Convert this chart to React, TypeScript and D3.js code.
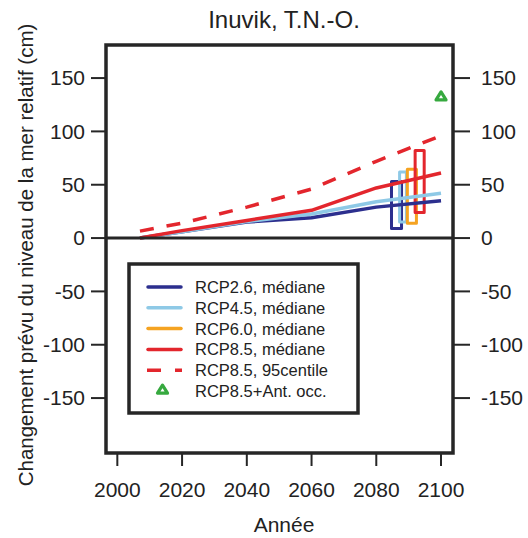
import React from "react";
import * as d3 from "d3";

const years = [2007, 2020, 2040, 2060, 2080, 2100];
const rcp26 = [0, 6, 15, 19, 29, 35];
const rcp45 = [0, 6, 15.5, 22.5, 34, 42];
const rcp85 = [0, 7, 16.5, 26, 47, 61];
const rcp85p95 = [6.5, 14, 29, 46, 72, 96];

const rangeSeries = ["RCP2.6", "RCP4.5", "RCP6.0", "RCP8.5"];
const rangeX0 = [2084.7, 2087.2, 2089.6, 2092.0];
const rangeX1 = [2087.8, 2089.3, 2092.4, 2094.8];
const rangeLow = [9, 15, 14, 24];
const rangeHigh = [53, 62, 64.5, 82];

const antYear = [2100];
const antValue = [132.5];

const xTicks = [2000, 2020, 2040, 2060, 2080, 2100];
const yTicks = [-150, -100, -50, 0, 50, 100, 150];

const legendLabels = [
  "RCP2.6, médiane",
  "RCP4.5, médiane",
  "RCP6.0, médiane",
  "RCP8.5, médiane",
  "RCP8.5, 95centile",
  "RCP8.5+Ant. occ.",
];

const C_NAVY = "#2c2f8e";
const C_LBLUE = "#8ec9e6";
const C_ORANGE = "#f5a321";
const C_RED = "#e3262d";
const C_GREEN = "#36a93f";
const C_FRAME = "#262626";
const rangeColors = [C_NAVY, C_LBLUE, C_ORANGE, C_RED];

const FONT = "'Liberation Sans', Arial, Helvetica, sans-serif";

const tri = (cx: number, cy: number) =>
  `M${cx - 5},${cy + 3.2}L${cx + 5},${cy + 3.2}L${cx},${cy - 4.8}Z`;

export default function App() {
  const L = 106, R = 453, T = 45, B = 453;
  const x = d3.scaleLinear().domain([1996.5, 2103.7]).range([L, R]);
  const y = d3.scaleLinear().domain([-201.5, 181]).range([B, T]);
  const line = (vals: number[]) =>
    d3.line<number>().x((_, i) => x(years[i])).y((v) => y(v))(vals) || "";

  const legendRowY = (i: number) => 287 + i * 20.8;

  return (
    <svg
      width={528}
      height={538}
      style={{ position: "absolute", left: 0, top: 0, background: "#fff" }}
      fontFamily={FONT}
    >
      <rect x={0} y={0} width={528} height={538} fill="#fff" />
      <text x={284} y={28} fontSize={24} textAnchor="middle" fill="#222">
        Inuvik, T.N.-O.
      </text>

      {/* data */}
      <g fill="none" strokeLinejoin="round">
        {rangeSeries.map((s, i) => (
          <rect
            key={s}
            x={x(rangeX0[i])}
            y={y(rangeHigh[i])}
            width={x(rangeX1[i]) - x(rangeX0[i])}
            height={y(rangeLow[i]) - y(rangeHigh[i])}
            stroke={rangeColors[i]}
            strokeWidth={3}
          />
        ))}
        <path d={line(rcp26)} stroke={C_NAVY} strokeWidth={3.5} />
        <path d={line(rcp45)} stroke={C_LBLUE} strokeWidth={3.5} />
        <path d={line(rcp85)} stroke={C_RED} strokeWidth={3.5} />
        <path d={line(rcp85p95)} stroke={C_RED} strokeWidth={3.5} strokeDasharray="14 13" />
        {antYear.map((yr, i) => (
          <path
            key={yr}
            d={tri(x(yr), y(antValue[i]))}
            stroke={C_GREEN}
            strokeWidth={3.2}
            strokeLinejoin="round"
          />
        ))}
      </g>

      {/* zero line */}
      <line x1={L} x2={R} y1={y(0)} y2={y(0)} stroke={C_FRAME} strokeWidth={3} />

      {/* frame */}
      <rect x={L} y={T} width={R - L} height={B - T} fill="none" stroke={C_FRAME} strokeWidth={3.5} />

      {/* y ticks */}
      {yTicks.map((t) => (
        <g key={t}>
          <line x1={91} x2={L} y1={y(t)} y2={y(t)} stroke={C_FRAME} strokeWidth={2} />
          <line x1={R} x2={470} y1={y(t)} y2={y(t)} stroke={C_FRAME} strokeWidth={2} />
          <text x={85} y={y(t)} dy="0.35em" fontSize={21} textAnchor="end" fill="#222">
            {t}
          </text>
          <text x={481} y={y(t)} dy="0.35em" fontSize={21} textAnchor="start" fill="#222">
            {t}
          </text>
        </g>
      ))}

      {/* x ticks */}
      {xTicks.map((t) => (
        <g key={t}>
          <line x1={x(t)} x2={x(t)} y1={B} y2={466} stroke={C_FRAME} strokeWidth={2} />
          <text x={x(t)} y={497} fontSize={21} textAnchor="middle" fill="#222">
            {t}
          </text>
        </g>
      ))}

      <text x={284} y={532} fontSize={21} textAnchor="middle" fill="#222">
        Année
      </text>
      <text
        transform="translate(33,255) rotate(-90)"
        fontSize={20.5}
        textAnchor="middle"
        fill="#222"
      >
        Changement prévu du niveau de la mer relatif (cm)
      </text>

      {/* legend */}
      <rect x={129} y={264} width={229} height={149} fill="#fff" stroke={C_FRAME} strokeWidth={3.5} />
      {legendLabels.map((lab, i) => {
        const ly = legendRowY(i);
        const colors = [C_NAVY, C_LBLUE, C_ORANGE, C_RED, C_RED];
        return (
          <g key={lab}>
            {i < 4 && (
              <line x1={148} x2={181} y1={ly} y2={ly} stroke={colors[i]} strokeWidth={3.5} strokeLinecap="round" />
            )}
            {i === 4 && (
              <line x1={147} x2={182} y1={ly} y2={ly} stroke={C_RED} strokeWidth={3.5} strokeDasharray="14 14" />
            )}
            {i === 5 && (
              <path
                d={tri(162.5, ly - 1)}
                fill="none"
                stroke={C_GREEN}
                strokeWidth={3.2}
                strokeLinejoin="round"
              />
            )}
            <text x={195} y={ly} dy="0.36em" fontSize={16.5} fill="#222">
              {lab}
            </text>
          </g>
        );
      })}
    </svg>
  );
}
